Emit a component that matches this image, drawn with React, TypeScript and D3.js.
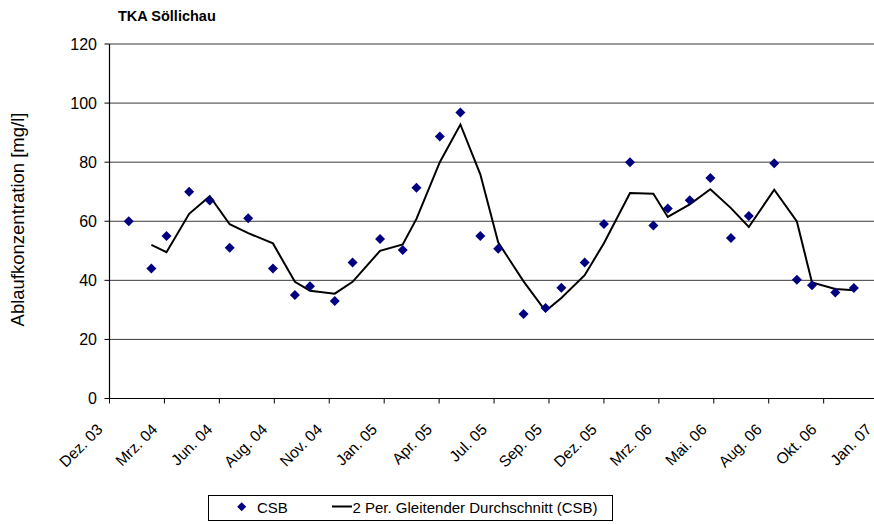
import React from "react";
import * as d3 from "d3";

const title = "TKA Söllichau";
const yTitle = "Ablaufkonzentration [mg/l]";
const tickLabels = [
  "Dez. 03", "Mrz. 04", "Jun. 04", "Aug. 04", "Nov. 04", "Jan. 05", "Apr. 05", "Jul. 05",
  "Sep. 05", "Dez. 05", "Mrz. 06", "Mai. 06", "Aug. 06", "Okt. 06", "Jan. 07",
];
const axisStart = "2003-12-25";
const tickStepDays = 80;
const yTicks = [0, 20, 40, 60, 80, 100, 120];

const sampleDates = [
  "2004-01-22", "2004-02-24", "2004-03-17", "2004-04-19", "2004-05-19", "2004-06-17",
  "2004-07-14", "2004-08-19", "2004-09-20", "2004-10-12", "2004-11-17", "2004-12-13",
  "2005-01-22", "2005-02-24", "2005-03-16", "2005-04-19", "2005-05-19", "2005-06-17",
  "2005-07-13", "2005-08-19", "2005-09-20", "2005-10-13", "2005-11-16", "2005-12-14",
  "2006-01-21", "2006-02-24", "2006-03-17", "2006-04-18", "2006-05-18", "2006-06-17",
  "2006-07-13", "2006-08-19", "2006-09-21", "2006-10-13", "2006-11-16", "2006-12-13",
];
const csb = [
  60, 44, 55, 70, 67, 51, 61, 44, 35, 38, 33, 46,
  54, 50.3, 71.3, 88.7, 96.8, 55, 50.7, 28.6, 30.6, 37.5, 46, 59.1,
  80, 58.6, 64.3, 67.1, 74.6, 54.3, 61.8, 79.6, 40.2, 38.3, 35.9, 37.4,
];
const seriesName = "CSB";
const avgName = "2 Per. Gleitender Durchschnitt (CSB)";

const W = 874;
const H = 524;
const FONT = "'Liberation Sans', Arial, Helvetica, sans-serif";
const NAVY = "#000080";

export default function App() {
  const parse = d3.timeParse("%Y-%m-%d");
  const start = parse(axisStart) as Date;
  const end = d3.timeDay.offset(start, tickStepDays * (tickLabels.length - 1));
  const x = d3.scaleTime().domain([start, end]).range([109.5, 878.6]);
  const y = d3.scaleLinear().domain([0, 120]).range([398.5, 44]);
  const tickDates = tickLabels.map((_, i) => d3.timeDay.offset(start, tickStepDays * i));

  const pts = sampleDates.map((d, i) => ({ date: parse(d) as Date, v: csb[i] }));
  const avg = d3.range(1, pts.length).map((i) => ({
    date: pts[i].date,
    v: (pts[i - 1].v + pts[i].v) / 2,
  }));
  const line = d3
    .line<{ date: Date; v: number }>()
    .x((d) => x(d.date))
    .y((d) => y(d.v));

  const diamond = (cx: number, cy: number, r = 5) =>
    `M${cx},${cy - r}L${cx + r},${cy}L${cx},${cy + r}L${cx - r},${cy}Z`;

  const x0 = x.range()[0];
  const x1 = x.range()[1];
  const yBase = y(0);

  return (
    <svg
      width={W}
      height={H}
      style={{ position: "absolute", left: 0, top: 0, background: "#fff" }}
      fontFamily={FONT}
    >
      <rect x={0} y={0} width={W} height={H} fill="#fff" />
      <text x={118} y={20.5} fontSize={14.5} fontWeight="bold" fill="#000">
        {title}
      </text>

      {/* grid */}
      {yTicks.filter((t) => t > 0).map((t) => (
        <line key={"g" + t} x1={x0} x2={x1} y1={y(t)} y2={y(t)} stroke="#3a3a3a" strokeWidth={1} />
      ))}

      {/* y axis */}
      <line x1={x0} x2={x0} y1={y(120)} y2={yBase} stroke="#000" strokeWidth={1.2} />
      {yTicks.map((t) => (
        <g key={"y" + t}>
          <line x1={x0 - 5} x2={x0} y1={y(t)} y2={y(t)} stroke="#000" />
          <text x={97} y={y(t) + 5.5} fontSize={16} textAnchor="end" fill="#000">
            {t}
          </text>
        </g>
      ))}
      <text
        transform={`translate(24,219.5) rotate(-90)`}
        fontSize={18.5}
        textAnchor="middle"
        fill="#000"
      >
        {yTitle}
      </text>

      {/* x axis */}
      <line x1={x0} x2={x1} y1={yBase} y2={yBase} stroke="#000" strokeWidth={1.2} />
      {tickDates.map((d, i) => {
        const tx = x(d);
        return (
          <g key={"x" + i}>
            <line x1={tx} x2={tx} y1={yBase} y2={yBase + 5} stroke="#000" />
            <text
              transform={`translate(${tx - 6},${yBase + 32}) rotate(-45)`}
              fontSize={15.5}
              textAnchor="end"
              fill="#000"
            >
              {tickLabels[i]}
            </text>
          </g>
        );
      })}

      {/* moving average */}
      <path d={line(avg) || ""} fill="none" stroke="#000" strokeWidth={2} strokeLinejoin="miter" />

      {/* points */}
      {pts.map((p, i) => (
        <path key={"p" + i} d={diamond(x(p.date), y(p.v))} fill={NAVY} />
      ))}

      {/* legend */}
      <rect x={208.5} y={495.5} width={404} height={25} fill="#fff" stroke="#000" strokeWidth={1} />
      <path d={diamond(241.7, 506.7, 4.5)} fill={NAVY} />
      <text x={257} y={513} fontSize={15} fill="#000">
        {seriesName}
      </text>
      <line x1={332} x2={352} y1={506.5} y2={506.5} stroke="#000" strokeWidth={2} />
      <text x={352.5} y={513} fontSize={15} fill="#000">
        {avgName}
      </text>
    </svg>
  );
}
